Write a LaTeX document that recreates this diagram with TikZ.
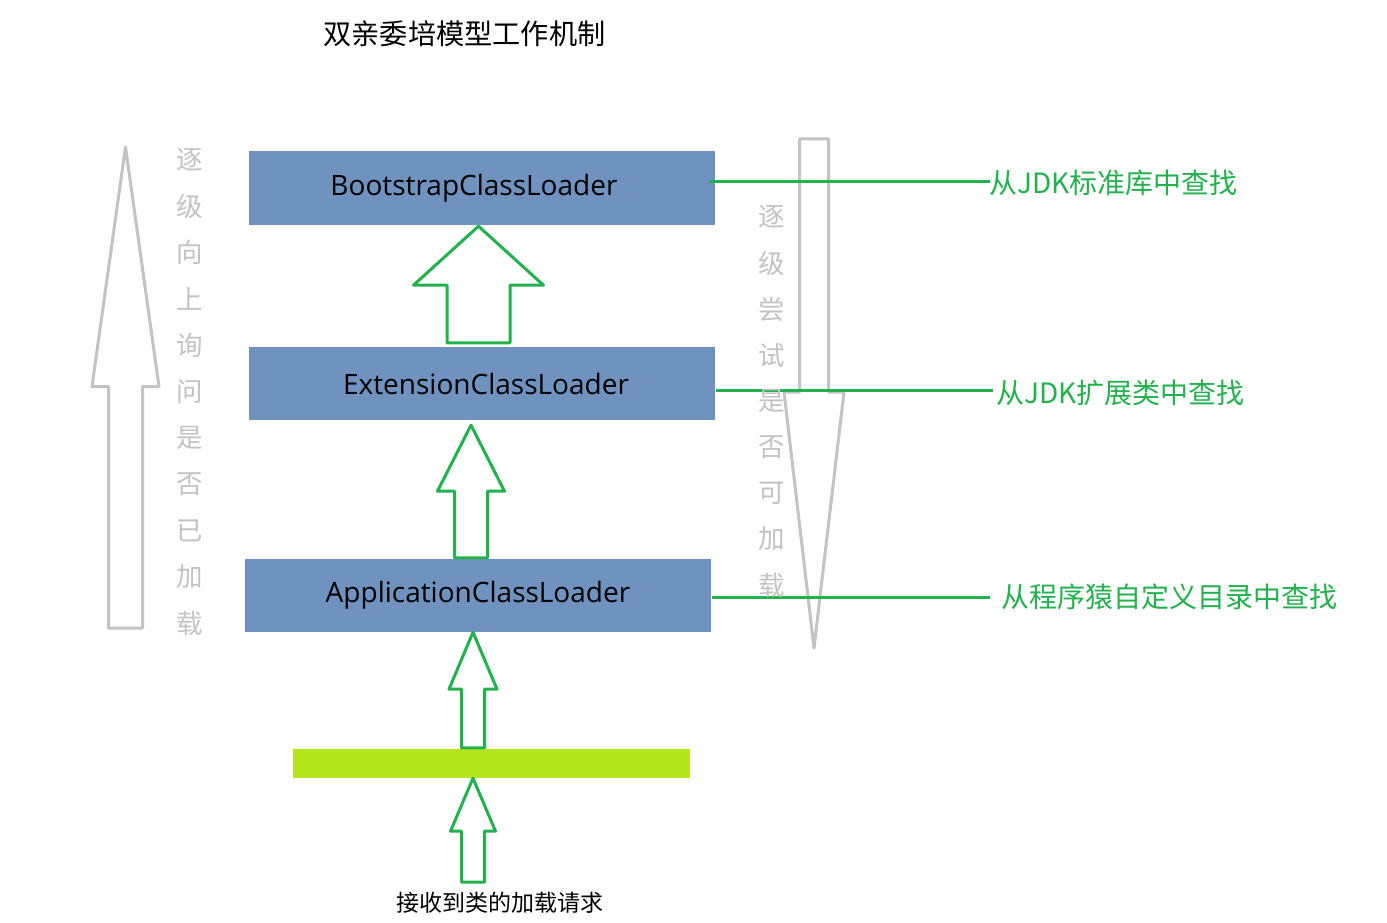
\documentclass[tikz,border=0pt]{standalone}
\usepackage{fontspec}
\setmainfont{Open Sans}
\newfontfamily\cjk{Noto Sans CJK SC}
\usetikzlibrary{calc}
\definecolor{boxblue}{HTML}{7092BE}
\definecolor{pgreen}{HTML}{22B14C}
\definecolor{plime}{HTML}{B5E61D}
\definecolor{pgray}{HTML}{C3C3C3}
% #1 style, #2 tip coordinate, #3 end coordinate, #4 head length, #5 head half width, #6 shaft half width
\newcommand{\hollowarrow}[6]{%
  \draw[#1] (#2) -- ($(#2)+(#5,#4)$) -- ($(#2)+(#6,#4)$) -- ($(#3)+(#6,0)$)
    -- ($(#3)+(-#6,0)$) -- ($(#2)+(-#6,#4)$) -- ($(#2)+(-#5,#4)$) -- cycle;}
\tikzset{
  loader/.style={fill=boxblue, minimum width=466pt, minimum height=73pt, inner sep=0pt,
    font=\fontsize{28}{32}\selectfont, text=black},
  garrow/.style={draw=pgreen, line width=3pt, line join=round},
  grayarrow/.style={draw=pgray, line width=3pt, line join=round},
  gline/.style={draw=pgreen, line width=3pt},
  greenlabel/.style={anchor=west, inner sep=0pt, text=pgreen, font=\cjk\fontsize{28}{32}\selectfont},
  graytxt/.style={inner sep=0pt, text=pgray, font=\cjk\fontsize{26.5}{30}\selectfont},
  blacktxt/.style={inner sep=0pt, text=black},
}
\begin{document}
\begin{tikzpicture}[x=1pt, y=-1pt]
\useasboundingbox (0,0) rectangle (1387,923);
\fill[white] (0,0) rectangle (1387,923);

% title
\node[blacktxt, font=\cjk\fontsize{28.2}{32}\selectfont] (title) at (464.5,34) {双亲委培模型工作机制};

% loader boxes
\node[loader, minimum height=74pt] (boot) at (482,188) {\raisebox{-2pt}{BootstrapClassLoader}\kern16pt};
\node[loader] (ext) at (482,383.5) {\kern8pt ExtensionClassLoader};
\node[loader] (app) at (478,595.5) {\raisebox{-1pt}{ApplicationClassLoader}};
\node[fill=plime, minimum width=397pt, minimum height=29pt, inner sep=0pt] (bar) at (491.5,763.5) {};

% request text
\node[blacktxt, font=\cjk\fontsize{23}{26}\selectfont] (req) at (500,902.5) {接收到类的加载请求};

% hollow green arrows between the stages
\coordinate (a1tip) at ($(boot.south)+(-3.5,1)$);
\coordinate (a1end) at ($(ext.north)+(-3.5,-4)$);
\hollowarrow{garrow}{a1tip}{a1end}{59}{65}{31.5}
\coordinate (a2tip) at ($(ext.south)+(-11,5)$);
\coordinate (a2end) at ($(app.north)+(-7,-1)$);
\hollowarrow{garrow}{a2tip}{a2end}{66}{33.5}{16.5}
\coordinate (a3tip) at ($(app.south)+(-5,0)$);
\coordinate (a3end) at ($(bar.north)+(-18.5,-1)$);
\hollowarrow{garrow}{a3tip}{a3end}{57}{24}{11.5}
\coordinate (a4tip) at ($(bar.south)+(-18.5,0)$);
\coordinate (a4end) at (473,882);
\hollowarrow{garrow}{a4tip}{a4end}{53}{22.5}{11.5}

% gray arrows
\coordinate (upTip) at (125.5,147);
\coordinate (upEnd) at (125.5,628);
\hollowarrow{grayarrow}{upTip}{upEnd}{239.5}{33.5}{17}
\coordinate (downTip) at (814,648);
\coordinate (downEnd) at (814,139);
\hollowarrow{grayarrow}{downTip}{downEnd}{-256}{30}{14.5}

% green labels and lines
\node[greenlabel] (t1) at (989,183) {从JDK标准库中查找};
\node[greenlabel] (t2) at (996,393) {从JDK扩展类中查找};
\node[greenlabel] (t3) at (1001,597) {从程序猿自定义目录中查找};
\coordinate (s1) at ($(boot.east)+(-6,-7)$);
\draw[gline] (s1) -- ($(s1 -| t1.west)+(1,0)$);
\coordinate (s2) at ($(ext.east)+(1,6.5)$);
\draw[gline] (s2) -- ($(s2 -| t2.west)+(-3,0)$);
\coordinate (s3) at ($(app.east)+(1,1.5)$);
\draw[gline] (s3) -- ($(s3 -| t3.west)+(-11,0)$);

% gray vertical texts
\foreach \c [count=\i from 0] in {逐,级,向,上,询,问,是,否,已,加,载}
  \node[graytxt] (L\i) at (190,{160+46.3*\i}) {\c};
\foreach \c [count=\i from 0] in {逐,级,尝,试,是,否,可,加,载}
  \node[graytxt] (R\i) at (772,{217+46*\i}) {\c};
\end{tikzpicture}
\end{document}
